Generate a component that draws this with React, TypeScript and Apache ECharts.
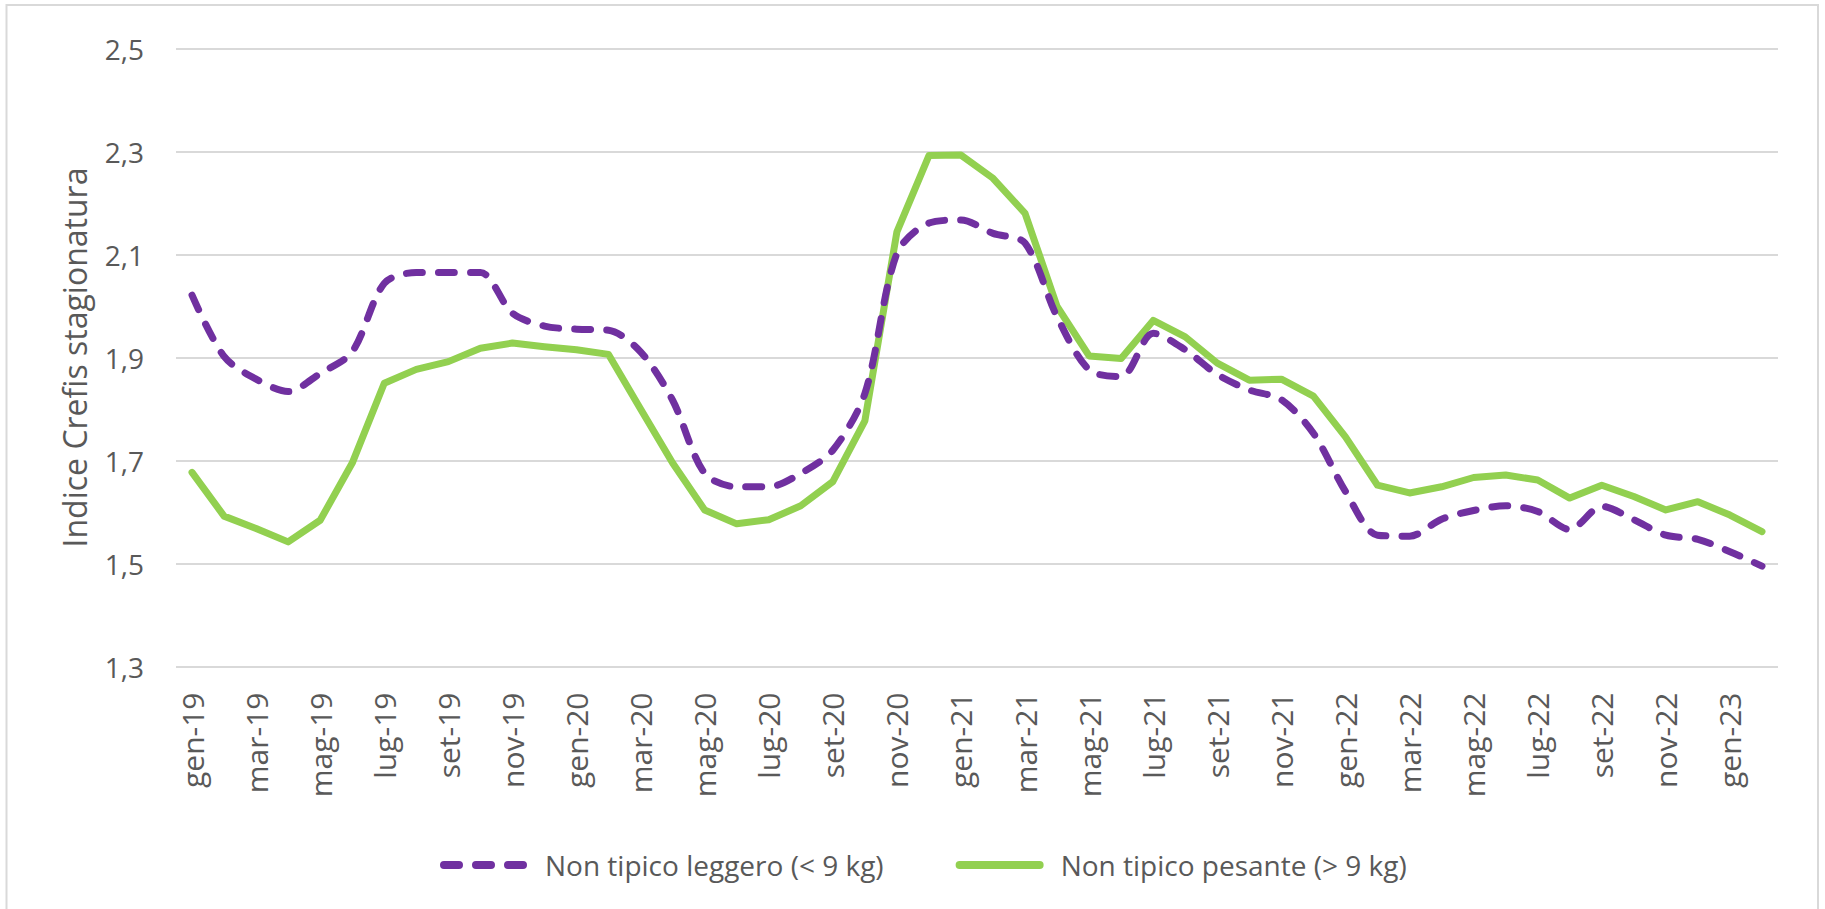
import React, { useEffect, useRef } from "react";
import * as echarts from "echarts";

const categories: string[] = [
  "gen-19", "feb-19", "mar-19", "apr-19", "mag-19", "giu-19", "lug-19", "ago-19", "set-19", "ott-19", "nov-19", "dic-19",
  "gen-20", "feb-20", "mar-20", "apr-20", "mag-20", "giu-20", "lug-20", "ago-20", "set-20", "ott-20", "nov-20", "dic-20",
  "gen-21", "feb-21", "mar-21", "apr-21", "mag-21", "giu-21", "lug-21", "ago-21", "set-21", "ott-21", "nov-21", "dic-21",
  "gen-22", "feb-22", "mar-22", "apr-22", "mag-22", "giu-22", "lug-22", "ago-22", "set-22", "ott-22", "nov-22", "dic-22",
  "gen-23", "feb-23",
];

const leggero: number[] = [
  2.021, 1.902, 1.858, 1.834, 1.869, 1.911, 2.044, 2.065, 2.065, 2.065,
  1.986, 1.961, 1.955, 1.953, 1.911, 1.817, 1.675, 1.649, 1.649, 1.675,
  1.72, 1.83, 2.102, 2.161, 2.167, 2.141, 2.122, 1.979, 1.876, 1.863,
  1.947, 1.915, 1.867, 1.837, 1.818, 1.753, 1.64, 1.555, 1.553, 1.586,
  1.603, 1.612, 1.601, 1.566, 1.611, 1.585, 1.555, 1.547, 1.523, 1.495,
];

const pesante: number[] = [
  1.677, 1.592, 1.568, 1.542, 1.584, 1.695, 1.85, 1.877, 1.892, 1.918,
  1.928, 1.921, 1.915, 1.906, 1.8, 1.695, 1.604, 1.577, 1.585, 1.612,
  1.659, 1.777, 2.144, 2.292, 2.293, 2.248, 2.18, 1.999, 1.903, 1.898,
  1.972, 1.94, 1.889, 1.856, 1.858, 1.825, 1.746, 1.652, 1.637, 1.649,
  1.667, 1.672, 1.662, 1.627, 1.652, 1.63, 1.604, 1.62, 1.594, 1.562,
];

const seriesNames = ["Non tipico leggero (< 9 kg)", "Non tipico pesante (> 9 kg)"];
const yAxisName = "Indice Crefis stagionatura";

const FONT = "'Open Sans', 'Noto Sans', sans-serif";
const TEXT = "#595959";
const PURPLE = "#7030A0";
const GREEN = "#92D050";

const dash = (x: number) => `M${x + 4},0 h15 a4,4 0 0 1 0,8 h-15 a4,4 0 0 1 0,-8 z`;
const DASH_ICON = "path://" + [0, 32, 64].map(dash).join(" ") + " M87,0 h1 v0 z";
const SOLID_ICON = "path://M4,0 h80 a4,4 0 0 1 0,8 h-80 a4,4 0 0 1 0,-8 z";

export default function App() {
  const ref = useRef<HTMLDivElement>(null);
  useEffect(() => {
    if (!ref.current) return;
    const chart = echarts.init(ref.current, undefined, { renderer: "svg" });
    chart.setOption({
      animation: false,
      backgroundColor: "#ffffff",
      textStyle: { fontFamily: FONT, color: TEXT },
      grid: { left: 176, right: 47, top: 48.5, bottom: 242.5, containLabel: false },
      graphic: [
        {
          type: "rect",
          shape: { x: 6.5, y: 5, width: 1811.5, height: 1000 },
          style: { fill: "none", stroke: "#D9D9D9", lineWidth: 2 },
          silent: true,
        },
      ],
      legend: {
        left: 435,
        top: 846,
        itemWidth: 88,
        itemHeight: 8,
        itemGap: 72,
        symbolKeepAspect: false,
        textStyle: { fontFamily: FONT, fontSize: 28, color: TEXT, padding: [0, 0, 0, 12] },
        data: [
          { name: seriesNames[0], icon: DASH_ICON, itemStyle: { color: PURPLE, borderWidth: 0 } },
          { name: seriesNames[1], icon: SOLID_ICON, itemStyle: { color: GREEN, borderWidth: 0 } },
        ],
      },
      xAxis: {
        type: "category",
        data: categories,
        boundaryGap: true,
        axisLine: { show: false },
        axisTick: { show: false },
        axisLabel: {
          interval: 1,
          rotate: 90,
          margin: 26,
          fontSize: 30,
          fontFamily: FONT,
          color: TEXT,
        },
        splitLine: { show: false },
      },
      yAxis: {
        type: "value",
        min: 1.3,
        max: 2.5,
        interval: 0.2,
        name: yAxisName,
        nameLocation: "middle",
        nameGap: 86,
        nameTextStyle: { fontSize: 32, fontFamily: FONT, color: TEXT },
        axisLine: { show: false },
        axisTick: { show: false },
        axisLabel: {
          margin: 32,
          fontSize: 28,
          fontFamily: FONT,
          color: TEXT,
          formatter: (v: number) => v.toFixed(1).replace(".", ","),
        },
        splitLine: { show: true, lineStyle: { color: "#D9D9D9", width: 2 } },
      },
      series: [
        {
          name: seriesNames[0],
          type: "line",
          data: leggero,
          symbol: "none",
          showSymbol: false,
          smooth: 0.3,
          lineStyle: { color: PURPLE, width: 7, type: [16, 16], cap: "round", join: "round" },
          itemStyle: { color: PURPLE },
          z: 3,
        },
        {
          name: seriesNames[1],
          type: "line",
          data: pesante,
          symbol: "none",
          showSymbol: false,
          lineStyle: { color: GREEN, width: 7, cap: "round", join: "round" },
          itemStyle: { color: GREEN },
          z: 2,
        },
      ],
    });
    return () => chart.dispose();
  }, []);
  return (
    <div
      ref={ref}
      style={{ position: "absolute", left: 0, top: 0, width: 1825, height: 909, background: "#fff" }}
    />
  );
}
